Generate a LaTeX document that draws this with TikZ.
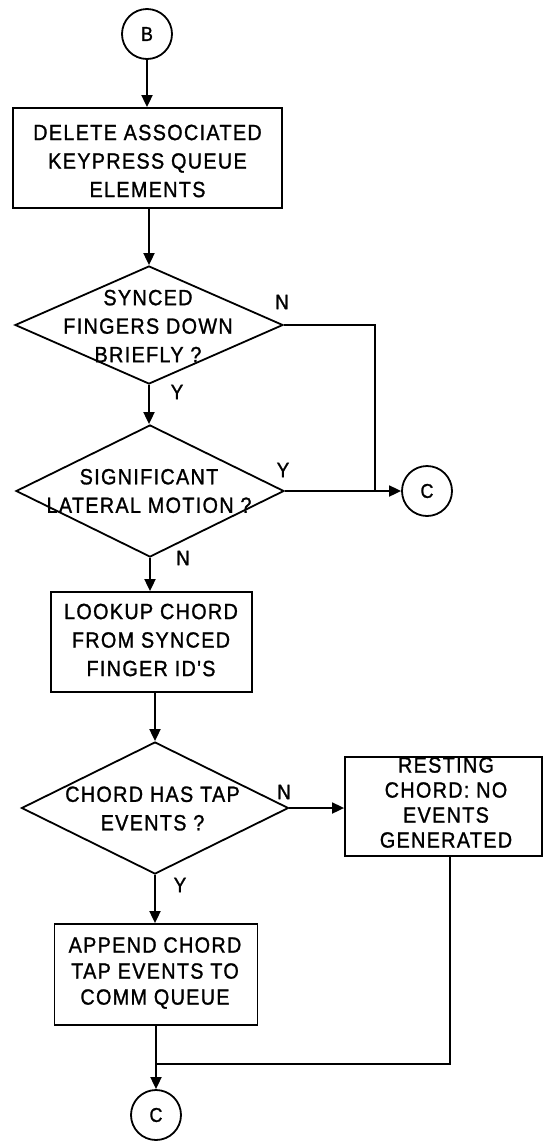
\documentclass[tikz,border=0pt]{standalone}
\usepackage{fontspec}
\usetikzlibrary{shapes.geometric,arrows.meta}
\newfontfamily\flowfont[FakeStretch=0.9,LetterSpace=6,FakeBold=1.2]{Liberation Sans}
\tikzset{
  boxnode/.style={draw, rectangle, line width=1.8pt, inner sep=0pt},
  dianode/.style={draw, diamond, line width=1.8pt, inner sep=0pt},
  circnode/.style={draw, circle, line width=1.8pt, inner sep=0pt, minimum size=50pt,
    font=\flowfont\fontsize{20}{20}\selectfont},
  txtnode/.style={align=center, inner sep=0pt, font=\flowfont\fontsize{22}{28.5}\selectfont},
  ynnode/.style={inner sep=0pt, font=\flowfont\fontsize{21}{21}\selectfont},
  conn/.style={line width=1.8pt},
  arr/.style={conn, -{Triangle[length=12pt,width=11pt]}}
}
\begin{document}
\begin{tikzpicture}[x=1pt,y=-1pt]
\fill[white] (0,0) rectangle (544,1141);
\useasboundingbox (0,0) rectangle (544,1141);

% shapes
\node[circnode] (B) at (147,34) {B};
\node[boxnode, minimum width=269pt, minimum height=100pt] (del) at (147.5,158) {};
\node[dianode, minimum width=268pt, minimum height=118pt] (d1) at (149,325) {};
\node[dianode, minimum width=268pt, minimum height=132pt] (d2) at (150,491) {};
\node[circnode] (Cr) at (427,491) {C};
\node[boxnode, minimum width=201pt, minimum height=100pt] (look) at (151.5,642) {};
\node[dianode, minimum width=267pt, minimum height=132pt] (d3) at (155,808) {};
\node[boxnode, minimum width=197pt, minimum height=99pt] (rest) at (443.5,806.5) {};
\node[boxnode, minimum width=203pt, minimum height=101pt] (app) at (156,974.5) {};
\node[circnode] (Cb) at (156,1115) {C};

% texts
\node[txtnode] (delt) at (147.5,161) {DELETE ASSOCIATED\\KEYPRESS QUEUE\\ELEMENTS};
\node[txtnode] (d1t) at (148,326) {SYNCED\\FINGERS DOWN\\BRIEFLY ?};
\node[txtnode] (d2t) at (149,491) {SIGNIFICANT\\LATERAL MOTION ?};
\node[txtnode] (lookt) at (151,640) {LOOKUP CHORD\\FROM SYNCED\\FINGER ID'S};
\node[txtnode] (d3t) at (152.5,808.5) {CHORD HAS TAP\\EVENTS ?};
\node[txtnode, font=\flowfont\fontsize{22}{25}\selectfont] (restt) at (446,802.5) {RESTING\\CHORD: NO\\EVENTS\\GENERATED};
\node[txtnode, font=\flowfont\fontsize{22}{26}\selectfont] (appt) at (155,973) {APPEND CHORD\\TAP EVENTS TO\\COMM QUEUE};

% yes/no labels
\node[ynnode] (n1) at (282,302) {N};
\node[ynnode] (y1) at (177,392) {Y};
\node[ynnode] (y2) at (283,470) {Y};
\node[ynnode] (n2) at (183,558) {N};
\node[ynnode] (n3) at (284,792) {N};
\node[ynnode] (y3) at (180,885) {Y};

% junctions
\coordinate (j1) at (375,491);
\coordinate (j2) at (156,1064);
\coordinate (rs) at (450,856);

% connectors
\draw[arr] (B.south) -- (B.south |- del.north);
\draw[arr] (d1.north |- del.south) -- (d1.north);
\draw[arr] (d1.south) -- (d1.south |- d2.north);
\draw[conn] (d1.east) -| (j1);
\draw[arr] (d2.east) -- (Cr.west);
\draw[arr] (d2.south) -- (d2.south |- look.north);
\draw[arr] (d3.north |- look.south) -- (d3.north);
\draw[arr] (d3.east) -- (d3.east -| rest.west);
\draw[arr] (d3.south) -- (d3.south |- app.north);
\draw[arr] (app.south) -- (Cb.north);
\draw[conn] (rs) |- (j2);
\end{tikzpicture}
\end{document}
